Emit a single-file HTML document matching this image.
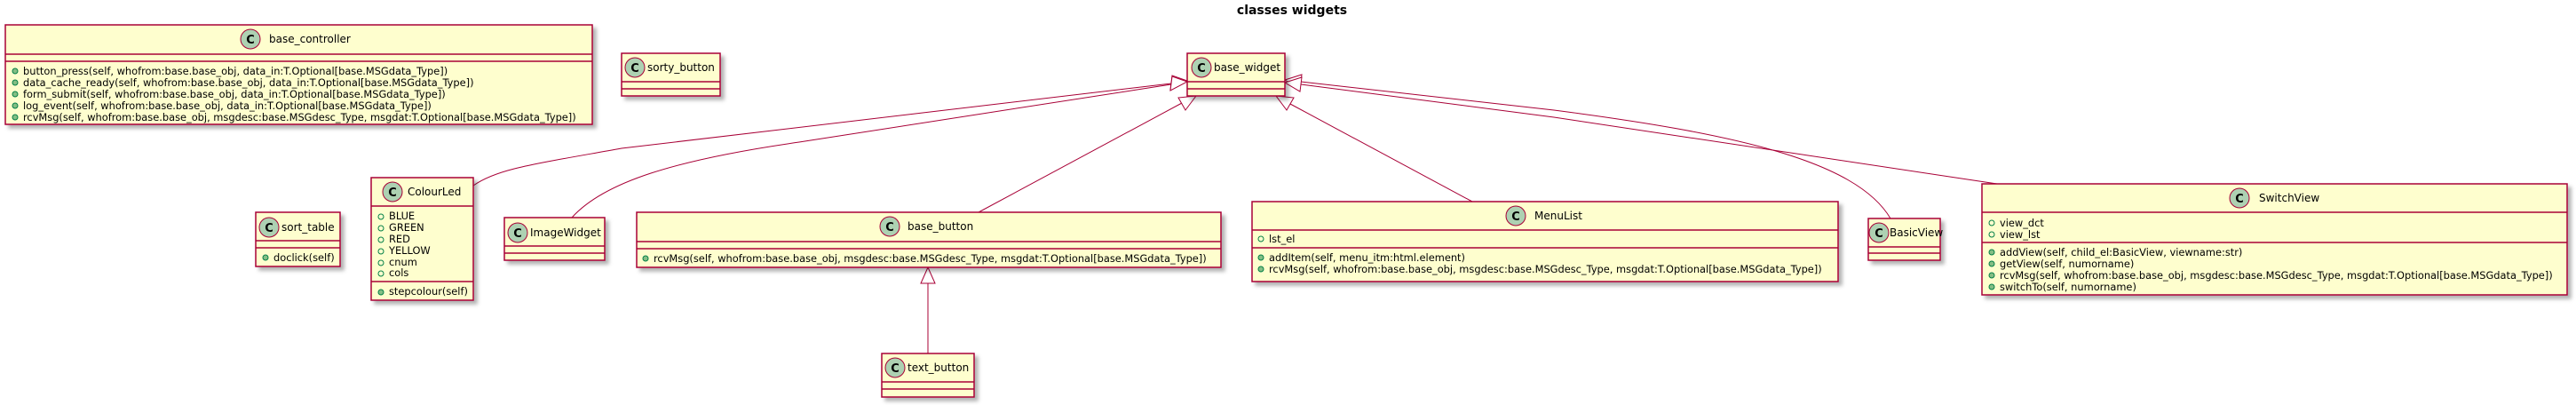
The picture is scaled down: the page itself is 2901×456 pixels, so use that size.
<!DOCTYPE html>
<html><head><meta charset="utf-8"><style>
html,body{margin:0;padding:0;background:#fff;}
svg{display:block;}
text{font-family:"DejaVu Sans","Liberation Sans",sans-serif;fill:#000;}
.n{font-size:12px;}
.m{font-size:11.4px;}
.b{fill:#FEFECE;stroke:#A80036;stroke-width:1.5;filter:url(#sh);}
.s{stroke:#A80036;stroke-width:1.5;}
.c{fill:#ADD1B2;stroke:#A80036;stroke-width:1;}
.ct{font-size:13px;font-weight:bold;text-anchor:middle;}
.l{fill:none;stroke:#A80036;stroke-width:1;}
.a{fill:#fff;stroke:#A80036;stroke-width:1;}
.f{fill:none;stroke:#038048;stroke-width:1;}
.p{fill:#84BE84;stroke:#038048;stroke-width:1;}
</style></head><body>
<svg width="2901" height="456" viewBox="0 0 2901 456" xmlns="http://www.w3.org/2000/svg">
<defs><filter id="sh" x="-5%" y="-10%" width="115%" height="130%"><feDropShadow dx="4" dy="4" stdDeviation="2" flood-color="#000" flood-opacity="0.3"/></filter></defs>

<text x="1455" y="16" style="font-size:14px;font-weight:bold;text-anchor:middle">classes widgets</text>

<path class="l" d="M533,209 C560,190 600,185 700,167 L1319,94"/>
<polygon class="a" points="1337,91 1320,85 1318,101"/>
<path class="l" d="M644,245 C680,205 760,180 900,160 L1319,95"/>
<polygon class="a" points="1337,92 1320,86 1318,102"/>
<path class="l" d="M1102,239 L1331,116"/>
<polygon class="a" points="1347,108 1335,124 1327,110"/>
<path class="l" d="M1658,227 L1453,117"/>
<polygon class="a" points="1437,108 1457,110 1449,124"/>
<path class="l" d="M1465,92 L1750,124 C1950,150 2090,180 2129,246"/>
<polygon class="a" points="1447,90 1466,84 1464,100"/>
<path class="l" d="M1465,95 L1750,132 L2249,207"/>
<polygon class="a" points="1447,93 1466,87 1464,103"/>
<path class="l" d="M1045,398 L1045,319"/>
<polygon class="a" points="1045,301 1037,319 1053,319"/>

<rect class="b" x="6" y="28" width="661" height="112"/>
<line class="s" x1="6" y1="61" x2="667" y2="61"/><line class="s" x1="6" y1="69" x2="667" y2="69"/>
<circle class="c" cx="282" cy="44" r="11"/><text class="ct" x="282" y="49">C</text>
<text class="n" x="303" y="48">base_controller</text>
<circle class="p" cx="17" cy="80" r="3"/><text class="m" x="26" y="84">button_press(self, whofrom:base.base_obj, data_in:T.Optional[base.MSGdata_Type])</text>
<circle class="p" cx="17" cy="93" r="3"/><text class="m" x="26" y="97">data_cache_ready(self, whofrom:base.base_obj, data_in:T.Optional[base.MSGdata_Type])</text>
<circle class="p" cx="17" cy="106" r="3"/><text class="m" x="26" y="110">form_submit(self, whofrom:base.base_obj, data_in:T.Optional[base.MSGdata_Type])</text>
<circle class="p" cx="17" cy="119" r="3"/><text class="m" x="26" y="123">log_event(self, whofrom:base.base_obj, data_in:T.Optional[base.MSGdata_Type])</text>
<circle class="p" cx="17" cy="132" r="3"/><text class="m" x="26" y="136">rcvMsg(self, whofrom:base.base_obj, msgdesc:base.MSGdesc_Type, msgdat:T.Optional[base.MSGdata_Type])</text>

<rect class="b" x="700" y="60" width="111" height="48"/>
<line class="s" x1="700" y1="92" x2="811" y2="92"/><line class="s" x1="700" y1="100" x2="811" y2="100"/>
<circle class="c" cx="715" cy="76" r="11"/><text class="ct" x="715" y="81">C</text>
<text class="n" x="729" y="80">sorty_button</text>

<rect class="b" x="1337" y="60" width="110" height="48"/>
<line class="s" x1="1337" y1="92" x2="1447" y2="92"/><line class="s" x1="1337" y1="100" x2="1447" y2="100"/>
<circle class="c" cx="1353" cy="76" r="11"/><text class="ct" x="1353" y="81">C</text>
<text class="n" x="1367" y="80">base_widget</text>

<rect class="b" x="288" y="239" width="95" height="61"/>
<line class="s" x1="288" y1="271" x2="383" y2="271"/><line class="s" x1="288" y1="279" x2="383" y2="279"/>
<circle class="c" cx="303" cy="256" r="11"/><text class="ct" x="303" y="261">C</text>
<text class="n" x="317" y="260">sort_table</text>
<circle class="p" cx="299" cy="290" r="3"/><text class="m" x="308" y="294">doclick(self)</text>

<rect class="b" x="418" y="200" width="115" height="138"/>
<line class="s" x1="418" y1="232" x2="533" y2="232"/><line class="s" x1="418" y1="317" x2="533" y2="317"/>
<circle class="c" cx="442" cy="216" r="11"/><text class="ct" x="442" y="221">C</text>
<text class="n" x="459" y="220">ColourLed</text>
<circle class="f" cx="429" cy="244" r="3"/><text class="m" x="438" y="247">BLUE</text>
<circle class="f" cx="429" cy="257" r="3"/><text class="m" x="438" y="260">GREEN</text>
<circle class="f" cx="429" cy="270" r="3"/><text class="m" x="438" y="273">RED</text>
<circle class="f" cx="429" cy="283" r="3"/><text class="m" x="438" y="286">YELLOW</text>
<circle class="f" cx="429" cy="296" r="3"/><text class="m" x="438" y="299">cnum</text>
<circle class="f" cx="429" cy="308" r="3"/><text class="m" x="438" y="311">cols</text>
<circle class="p" cx="429" cy="329" r="3"/><text class="m" x="438" y="332">stepcolour(self)</text>

<rect class="b" x="568" y="245" width="113" height="48"/>
<line class="s" x1="568" y1="277" x2="681" y2="277"/><line class="s" x1="568" y1="285" x2="681" y2="285"/>
<circle class="c" cx="583" cy="262" r="11"/><text class="ct" x="583" y="267">C</text>
<text class="n" x="597" y="266">ImageWidget</text>

<rect class="b" x="717" y="239" width="658" height="62"/>
<line class="s" x1="717" y1="272" x2="1375" y2="272"/><line class="s" x1="717" y1="280" x2="1375" y2="280"/>
<circle class="c" cx="1002" cy="255" r="11"/><text class="ct" x="1002" y="260">C</text>
<text class="n" x="1022" y="259">base_button</text>
<circle class="p" cx="727" cy="291" r="3"/><text class="m" x="736" y="295">rcvMsg(self, whofrom:base.base_obj, msgdesc:base.MSGdesc_Type, msgdat:T.Optional[base.MSGdata_Type])</text>

<rect class="b" x="993" y="398" width="104" height="49"/>
<line class="s" x1="993" y1="430" x2="1097" y2="430"/><line class="s" x1="993" y1="438" x2="1097" y2="438"/>
<circle class="c" cx="1008" cy="414" r="11"/><text class="ct" x="1008" y="419">C</text>
<text class="n" x="1022" y="418">text_button</text>

<rect class="b" x="1410" y="227" width="660" height="90"/>
<line class="s" x1="1410" y1="259" x2="2070" y2="259"/><line class="s" x1="1410" y1="279" x2="2070" y2="279"/>
<circle class="c" cx="1707" cy="243" r="11"/><text class="ct" x="1707" y="248">C</text>
<text class="n" x="1728" y="247">MenuList</text>
<circle class="f" cx="1420" cy="269" r="3"/><text class="m" x="1429" y="273">lst_el</text>
<circle class="p" cx="1420" cy="290" r="3"/><text class="m" x="1429" y="294">addItem(self, menu_itm:html.element)</text>
<circle class="p" cx="1420" cy="303" r="3"/><text class="m" x="1429" y="307">rcvMsg(self, whofrom:base.base_obj, msgdesc:base.MSGdesc_Type, msgdat:T.Optional[base.MSGdata_Type])</text>

<rect class="b" x="2104" y="246" width="81" height="47"/>
<line class="s" x1="2104" y1="278" x2="2185" y2="278"/><line class="s" x1="2104" y1="285" x2="2185" y2="285"/>
<circle class="c" cx="2116" cy="262" r="11"/><text class="ct" x="2116" y="267">C</text>
<text class="n" x="2128" y="266">BasicView</text>

<rect class="b" x="2232" y="207" width="659" height="125"/>
<line class="s" x1="2232" y1="239" x2="2891" y2="239"/><line class="s" x1="2232" y1="273" x2="2891" y2="273"/>
<circle class="c" cx="2522" cy="223" r="11"/><text class="ct" x="2522" y="228">C</text>
<text class="n" x="2544" y="227">SwitchView</text>
<circle class="f" cx="2243" cy="251" r="3"/><text class="m" x="2252" y="255">view_dct</text>
<circle class="f" cx="2243" cy="264" r="3"/><text class="m" x="2252" y="268">view_lst</text>
<circle class="p" cx="2243" cy="284" r="3"/><text class="m" x="2252" y="288">addView(self, child_el:BasicView, viewname:str)</text>
<circle class="p" cx="2243" cy="297" r="3"/><text class="m" x="2252" y="301">getView(self, numorname)</text>
<circle class="p" cx="2243" cy="310" r="3"/><text class="m" x="2252" y="314">rcvMsg(self, whofrom:base.base_obj, msgdesc:base.MSGdesc_Type, msgdat:T.Optional[base.MSGdata_Type])</text>
<circle class="p" cx="2243" cy="323" r="3"/><text class="m" x="2252" y="327">switchTo(self, numorname)</text>
</svg>
</body></html>
